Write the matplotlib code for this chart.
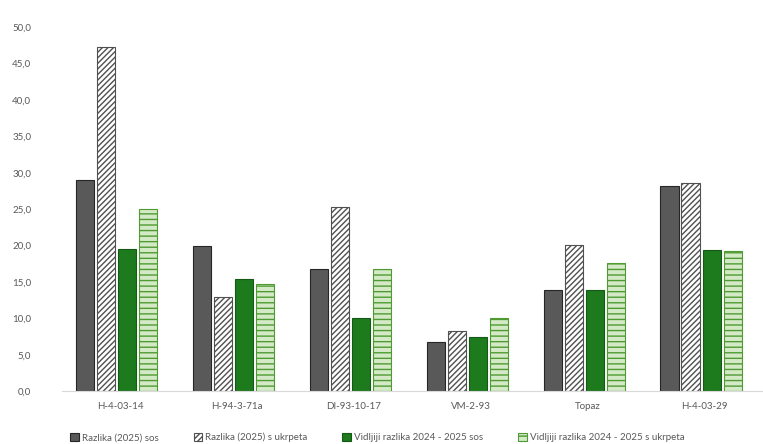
import matplotlib
matplotlib.use("Agg")
import matplotlib.pyplot as plt
import numpy as np

# data
sorte = ["H-4-03-14", "H-94-3-71a", "DI-93-10-17", "VM-2-93", "Topaz", "H-4-03-29"]
razlika_sos = [29.0, 20.0, 16.8, 6.7, 13.9, 28.2]
razlika_ukrpeta = [47.3, 12.9, 25.3, 8.2, 20.1, 28.6]
visak_sos = [19.5, 15.4, 10.0, 7.4, 13.9, 19.4]
visak_ukrpeta = [25.0, 14.7, 16.8, 10.0, 17.6, 19.2]
labels = ["Razlika (2025) sos", "Razlika (2025) s ukrpeta",
          "Vidljiji razlika 2024 - 2025 sos", "Vidljiji razlika 2024 - 2025 s ukrpeta"]
yticks = np.arange(0, 51, 5)

plt.rcParams["font.family"] = "Lato"
plt.rcParams["hatch.linewidth"] = 1.0

fig = plt.figure(figsize=(7.63, 4.44), dpi=100)
ax = fig.add_axes([0.081, 0.119, 0.919, 0.82])

x = np.arange(len(sorte))
w = 0.155
step = 0.18
styles = [
    dict(color="#595959", edgecolor="#262626"),
    dict(color="white", edgecolor="#505050", hatch="//////"),
    dict(color="#1d7a1d", edgecolor="#145a14"),
    dict(color="#d4eac6", edgecolor="#4f9a33", hatch="---"),
]
series = [razlika_sos, razlika_ukrpeta, visak_sos, visak_ukrpeta]
for i, (vals, st, lab) in enumerate(zip(series, styles, labels)):
    ax.bar(x + (i - 1.5) * step - 0.03, vals, w, label=lab, linewidth=0.8, **st)

ax.set_xlim(-0.5, len(sorte) - 0.5)
ax.set_ylim(0, 50)
ax.set_yticks(yticks)
ax.set_yticklabels([f"{v:.1f}".replace(".", ",") for v in yticks])
ax.set_xticks(x)
ax.set_xticklabels(sorte)
ax.tick_params(length=0, labelsize=7, colors="#595959", pad=8)
ax.tick_params(axis="y", pad=22)
for s in ["top", "right", "left"]:
    ax.spines[s].set_visible(False)
ax.spines["bottom"].set_color("#d9d9d9")

ax.legend(loc="upper center", bbox_to_anchor=(0.45, -0.09), ncol=4, frameon=False,
          fontsize=7, handlelength=0.9, handleheight=0.9, handletextpad=0.3,
          columnspacing=3.6, labelcolor="#595959")

fig.savefig("out.png", dpi=100)
